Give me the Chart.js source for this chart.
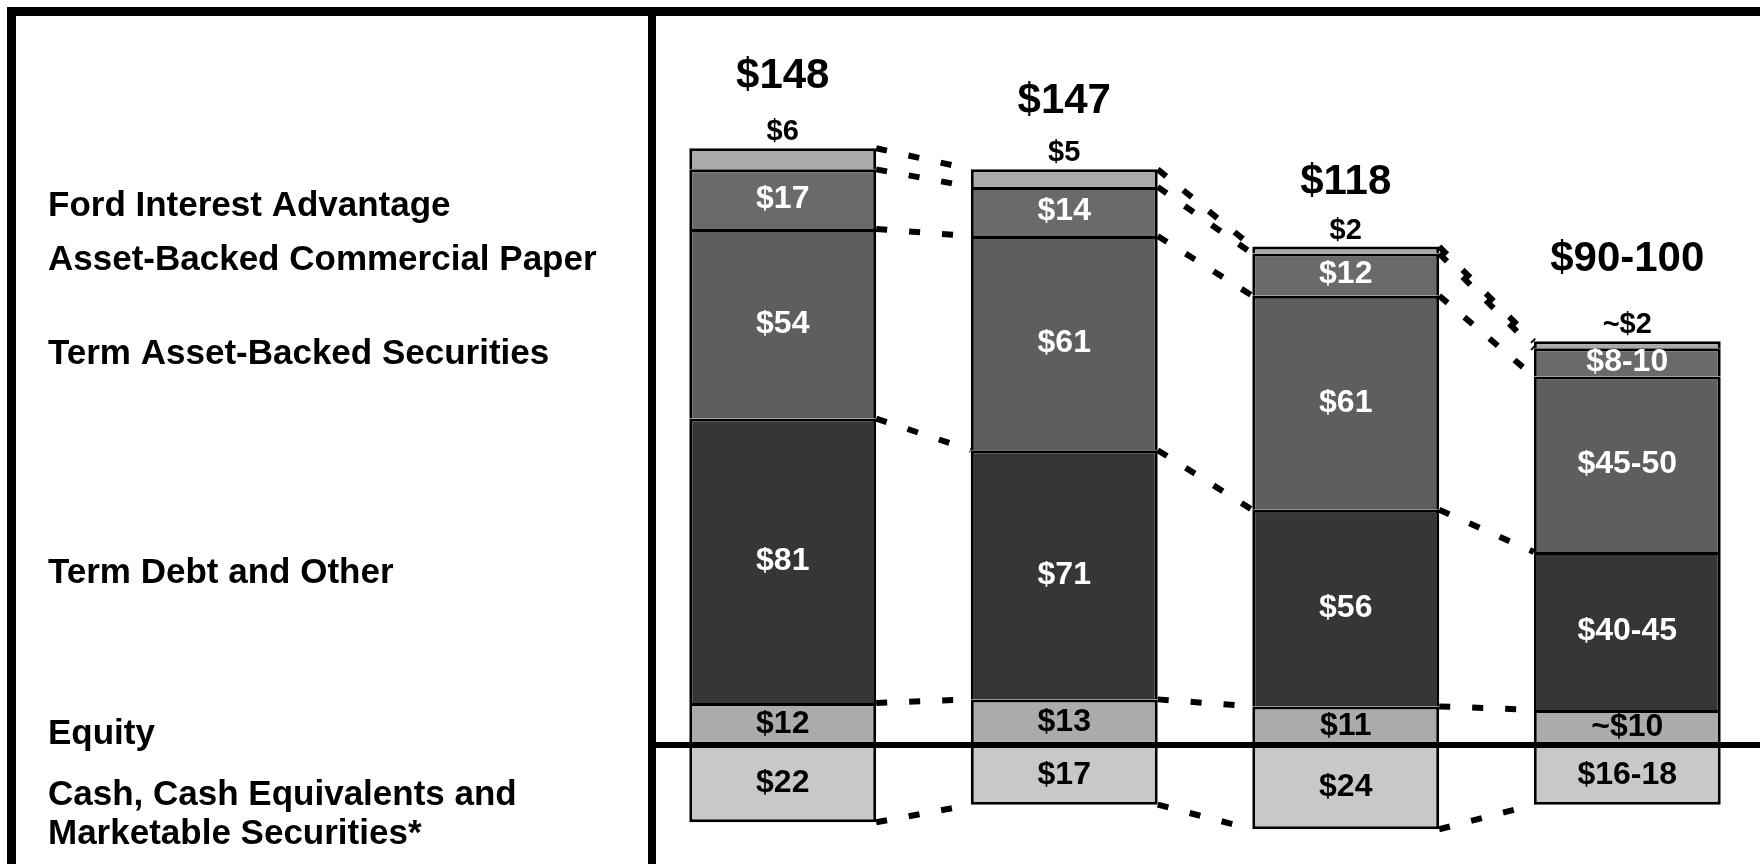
<!DOCTYPE html>
<html>
<head>
<meta charset="utf-8">
<title>Funding Structure</title>
<script src="https://cdn.jsdelivr.net/npm/chart.js@4.4.0/dist/chart.umd.min.js"></script>
<style>
  html, body { margin: 0; padding: 0; background: #fff; overflow: hidden; }
  #wrap { position: relative; width: 1760px; height: 864px; overflow: hidden; }
  #fundingChart { position: absolute; left: 0; top: 0; }
</style>
</head>
<body>
<div id="wrap"><canvas id="fundingChart" width="1768" height="864"></canvas></div>
<script>
// Funding sources per period, $ billions (last period is an outlook range)
const periods = ['Period 1', 'Period 2', 'Period 3', 'Period 4'];

const equity       = [12, 13, 11, 10];
const termDebt     = [81, 71, 56, 45];
const termABS      = [54, 61, 61, 50];
const abcp         = [17, 14, 12, 8];
const fordInterest = [6, 5, 2, 2];
const cash         = [22, 17, 24, 17];

const equityLabels       = ['$12', '$13', '$11', '~$10'];
const termDebtLabels     = ['$81', '$71', '$56', '$40-45'];
const termABSLabels      = ['$54', '$61', '$61', '$45-50'];
const abcpLabels         = ['$17', '$14', '$12', '$8-10'];
const fordInterestLabels = ['$6', '$5', '$2', '~$2'];
const cashLabels         = ['$22', '$17', '$24', '$16-18'];
const totalLabels        = ['$148', '$147', '$118', '$90-100'];

const seriesNames = [
    'Equity',
    'Term Debt and Other',
    'Term Asset-Backed Securities',
    'Asset-Backed Commercial Paper',
    'Ford Interest Advantage',
    'Cash, Cash Equivalents and\nMarketable Securities*'
];

// styling / placement
const FONT = '"Liberation Sans", Arial, sans-serif';
const seriesColors = ['#ababab', '#363636', '#5e5e5e', '#6a6a6a', '#aaaaaa', '#c8c8c8'];
const labelColors  = ['#000', '#fff', '#fff', '#fff', '#000', '#000'];
const nameY        = [734, 573, 354, 260, 206, 795];
const totalLift    = [72, 68, 64, 82];

const segmentLabels = [equityLabels, termDebtLabels, termABSLabels, abcpLabels, fordInterestLabels, cashLabels];
const seriesValues  = [equity, termDebt, termABS, abcp, fordInterest, cash.map(v => -v)];

const framePlugin = {
    id: 'frame',
    afterDatasetsDraw(chart) {
        const ctx = chart.ctx;
        const yScale = chart.scales.y;
        const W = chart.width;
        const H = chart.height;
        const bars = chart.getDatasetMeta(0).data;

        // dashed connectors between matching segment boundaries
        ctx.save();
        ctx.strokeStyle = '#000';
        ctx.lineWidth = 6;
        ctx.setLineDash([11, 22]);
        for (let i = 0; i < periods.length - 1; i++) {
            const x1 = bars[i].x + bars[i].width / 2;
            const x2 = bars[i + 1].x - bars[i + 1].width / 2;
            let a = 0, b = 0;
            for (let s = 0; s < 5; s++) {
                a += seriesValues[s][i];
                b += seriesValues[s][i + 1];
                ctx.beginPath();
                ctx.moveTo(x1, yScale.getPixelForValue(a));
                ctx.lineTo(x2, yScale.getPixelForValue(b));
                ctx.stroke();
            }
            ctx.beginPath();
            ctx.moveTo(x1, yScale.getPixelForValue(-cash[i]));
            ctx.lineTo(x2, yScale.getPixelForValue(-cash[i + 1]));
            ctx.stroke();
        }
        ctx.restore();

        // segment values
        ctx.save();
        ctx.textAlign = 'center';
        ctx.textBaseline = 'middle';
        seriesValues.forEach((vals, s) => {
            const meta = chart.getDatasetMeta(s);
            meta.data.forEach((el, i) => {
                ctx.fillStyle = labelColors[s];
                if (s === 4) {
                    ctx.font = 'bold 29px ' + FONT;
                    ctx.fillText(segmentLabels[s][i], el.x, el.y - 16);
                    ctx.font = 'bold 42px ' + FONT;
                    ctx.fillText(totalLabels[i], el.x, el.y - totalLift[i]);
                } else {
                    ctx.font = 'bold 32px ' + FONT;
                    ctx.fillText(segmentLabels[s][i], el.x, (el.y + el.base) / 2);
                }
            });
        });
        ctx.restore();

        // zero line, panel frame and divider
        ctx.save();
        ctx.strokeStyle = '#000';
        ctx.setLineDash([]);
        ctx.lineWidth = 6;
        const y0 = yScale.getPixelForValue(0);
        ctx.beginPath();
        ctx.moveTo(652, y0);
        ctx.lineTo(W, y0);
        ctx.stroke();
        ctx.lineWidth = 9;
        ctx.beginPath();
        ctx.moveTo(11.5, H);
        ctx.lineTo(11.5, 11.5);
        ctx.lineTo(W, 11.5);
        ctx.stroke();
        ctx.lineWidth = 8;
        ctx.beginPath();
        ctx.moveTo(652, 11.5);
        ctx.lineTo(652, H);
        ctx.stroke();

        // series names in the left panel
        ctx.fillStyle = '#000';
        ctx.font = 'bold 35px ' + FONT;
        ctx.textAlign = 'left';
        ctx.textBaseline = 'middle';
        seriesNames.forEach((name, s) => {
            name.split('\n').forEach((line, k) => {
                ctx.fillText(line, 48, nameY[s] + k * 39);
            });
        });
        ctx.restore();
    }
};

const ctx = document.getElementById('fundingChart').getContext('2d');
new Chart(ctx, {
    type: 'bar',
    data: {
        labels: periods,
        datasets: seriesValues.map((vals, s) => ({
            label: seriesNames[s],
            data: vals,
            backgroundColor: seriesColors[s],
            borderColor: '#000',
            borderWidth: 3,
            borderSkipped: 'start',
            categoryPercentage: 1,
            barPercentage: 0.664
        }))
    },
    options: {
        responsive: false,
        animation: false,
        layout: { padding: { left: 642, right: 0, top: 0, bottom: 0 } },
        plugins: {
            legend: { display: false },
            tooltip: { enabled: false }
        },
        scales: {
            x: { stacked: true, display: false, offset: true, grid: { display: false } },
            y: { stacked: true, display: false, min: -33.9, max: 212.25 }
        }
    },
    plugins: [framePlugin]
});
</script>
</body>
</html>
